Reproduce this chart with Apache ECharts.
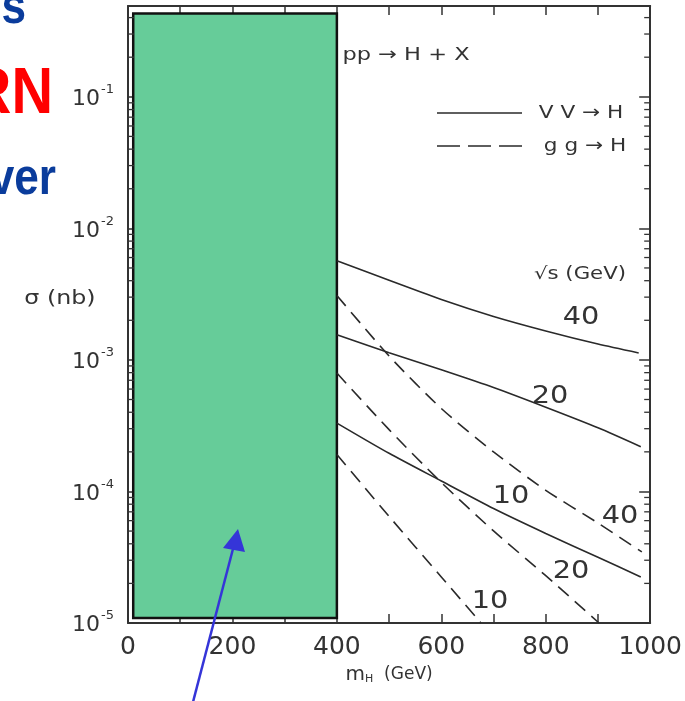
<!DOCTYPE html>
<html><head><meta charset="utf-8">
<script src="https://cdn.jsdelivr.net/npm/echarts@6/dist/echarts.min.js"></script>
<style>html,body{margin:0;padding:0;background:#fff}#c{width:685px;height:701px}</style>
</head><body><div id="c"></div>
<script>
// ---- data ----
const xTickLabels = ['0','200','400','600','800','1000'];
const yDecades = [1e-5, 1e-4, 1e-3, 1e-2, 1e-1];
const minorMultipliers = [2,3,4,5,6,7,8,9];
const greenBox = [10, 400, 1.09e-5, 0.43];          // mH from, mH to, sigma low, sigma high
// VV -> H (solid), sqrt(s) = 40, 20, 10 TeV
const vv40 = [[400,5.66e-3],[500,4.03e-3],[600,2.88e-3],[700,2.14e-3],[800,1.66e-3],[900,1.32e-3],[978,1.13e-3]];
const vv20 = [[400,1.55e-3],[500,1.135e-3],[600,8.41e-4],[700,6.17e-4],[800,4.37e-4],[900,3.05e-4],[982,2.19e-4]];
const vv10 = [[400,3.31e-4],[500,1.95e-4],[600,1.20e-4],[700,7.41e-5],[800,4.79e-5],[900,3.16e-5],[982,2.24e-5]];
// gg -> H (dashed)
const gg40 = [[400,3.09e-3],[500,1.07e-3],[600,4.27e-4],[700,2.00e-4],[800,1.02e-4],[900,5.75e-5],[984,3.47e-5]];
const gg20 = [[400,7.94e-4],[500,2.95e-4],[600,1.17e-4],[700,5.01e-5],[800,2.29e-5],[902,1.0e-5]];
const gg10 = [[400,1.91e-4],[500,6.46e-5],[600,2.24e-5],[676,1.0e-5]];

const minorTicks = [];
yDecades.forEach(d => minorMultipliers.forEach(m => { if (d*m < 0.49) minorTicks.push([0, d*m]); }));

const FONT = '"DejaVu Sans", sans-serif';
const SLIDE = '"Liberation Sans", Arial, sans-serif';
const INK = '#2a2a2a';
const TXT = '#333';
const chart = echarts.init(document.getElementById('c'), null, {renderer:'canvas'});

function curve(name, data, dashed) {
  return {
    name, type:'line', data, smooth:0.25, symbol:'none', clip:true, z:5,
    lineStyle:{color:INK, width:1.6, type: dashed ? [14,8] : 'solid'}
  };
}
function label(text, x, y, size, sx, extra) {
  return Object.assign({type:'text', x, y, scaleX:sx || 1,
    style:{text, fontSize:size, fontFamily:FONT, fill:TXT, align:'center', verticalAlign:'middle'}}, extra || {});
}

const supRich = {
  b:{fontSize:22, fontFamily:FONT, color:TXT, verticalAlign:'bottom'},
  s:{fontSize:13, fontFamily:FONT, color:TXT, verticalAlign:'top', padding:[0,0,14,1]}
};

chart.setOption({
  animation:false,
  backgroundColor:'#fff',
  grid:{left:128, right:32, top:6, bottom:78, containLabel:false},
  xAxis:[{
    type:'value', min:0, max:1000, interval:100, position:'bottom',
    axisLine:{show:true, onZero:false, lineStyle:{color:'#333', width:2}},
    axisTick:{inside:true, length:9, lineStyle:{color:'#333', width:1.5}},
    splitLine:{show:false},
    axisLabel:{margin:12, fontSize:25, fontFamily:FONT, color:TXT,
      formatter:v => xTickLabels.indexOf(String(v)) >= 0 ? String(v) : ''},
    name:'{m|m}{h|H}{g|  (GeV)}', nameLocation:'middle', nameGap:38,
    nameTextStyle:{rich:{
      m:{fontSize:20, fontFamily:FONT, color:TXT},
      h:{fontSize:11, fontFamily:FONT, color:TXT, verticalAlign:'bottom', padding:[8,0,0,0]},
      g:{fontSize:17, fontFamily:FONT, color:TXT}}}
  },{
    type:'value', min:0, max:1000, interval:100, position:'top',
    axisLine:{show:true, onZero:false, lineStyle:{color:'#333', width:2}},
    axisTick:{inside:true, length:9, lineStyle:{color:'#333', width:1.5}},
    axisLabel:{show:false}, splitLine:{show:false}
  }],
  yAxis:[{
    type:'log', logBase:10, min:1e-5, max:0.49, position:'left',
    axisLine:{show:true, onZero:false, lineStyle:{color:'#333', width:2}},
    axisTick:{inside:true, length:11, lineStyle:{color:'#333', width:1.5}},
    splitLine:{show:false},
    axisLabel:{margin:14, rich:supRich, showMaxLabel:false,
      formatter:v => { const e = Math.round(Math.log10(v)); return e >= 0 ? '' : '{b|10}{s|-' + (-e) + '}'; }}
  },{
    type:'log', logBase:10, min:1e-5, max:0.49, position:'right',
    axisLine:{show:true, onZero:false, lineStyle:{color:'#333', width:2}},
    axisTick:{inside:true, length:11, lineStyle:{color:'#333', width:1.5}},
    axisLabel:{show:false}, splitLine:{show:false}
  }],
  series:[
    {
      type:'line', data:[], symbol:'none', z:2,
      markArea:{silent:true, itemStyle:{color:'#66cc99', borderColor:'#111', borderWidth:2.5},
        data:[[{xAxis:greenBox[0], yAxis:greenBox[2]},{xAxis:greenBox[1], yAxis:greenBox[3]}]]}
    },
    {
      type:'custom', data:minorTicks, clip:false, z:6, silent:true,
      renderItem:(params, api) => {
        const v = api.value(1);
        const pL = api.coord([0, v]);
        const pR = api.coord([1000, v]);
        const st = {stroke:'#333', lineWidth:1.3};
        return {type:'group', children:[
          {type:'line', shape:{x1:pL[0], y1:pL[1], x2:pL[0]+6, y2:pL[1]}, style:st},
          {type:'line', shape:{x1:pR[0]-6, y1:pR[1], x2:pR[0], y2:pR[1]}, style:st}
        ]};
      }
    },
    curve('VV40', vv40, false), curve('VV20', vv20, false), curve('VV10', vv10, false),
    curve('gg40', gg40, true), curve('gg20', gg20, true), curve('gg10', gg10, true)
  ],
  graphic:[
    // cropped slide text on the left
    {type:'text', x:26, y:9, scaleX:0.85, style:{text:'s', fontSize:52, fontWeight:'bold', fontFamily:SLIDE, fill:'#0a3c9c', align:'right', verticalAlign:'middle'}},
    {type:'text', x:53, y:95, scaleX:0.9, style:{text:'RN', fontSize:64, fontWeight:'bold', fontFamily:SLIDE, fill:'#ff0000', align:'right', verticalAlign:'middle'}},
    {type:'text', x:56, y:180, scaleX:0.85, style:{text:'ver', fontSize:52, fontWeight:'bold', fontFamily:SLIDE, fill:'#0a3c9c', align:'right', verticalAlign:'middle'}},
    // y axis name
    label('σ (nb)', 60, 299, 19, 1.25),
    // annotations
    label('pp → H + X', 406, 55, 18, 1.25),
    {type:'line', shape:{x1:437, y1:113, x2:522, y2:113}, style:{stroke:INK, lineWidth:1.5}},
    label('V V → H', 581, 113, 18, 1.2),
    {type:'line', shape:{x1:437, y1:146, x2:522, y2:146}, style:{stroke:INK, lineWidth:1.5, lineDash:[23,8]}},
    label('g g → H', 585, 146, 18, 1.2),
    label('√s (GeV)', 580, 275, 17, 1.25),
    label('40', 581, 318, 24, 1.2),
    label('20', 550, 397, 24, 1.2),
    label('10', 511, 497, 24, 1.2),
    label('40', 620, 517, 24, 1.2),
    label('20', 571, 572, 24, 1.2),
    label('10', 490, 602, 24, 1.2),
    // blue arrow
    {type:'line', z:20, shape:{x1:193, y1:702, x2:234, y2:545}, style:{stroke:'#3535d8', lineWidth:2.5}},
    {type:'polygon', z:20, shape:{points:[[238,529],[223,548],[245,552]]}, style:{fill:'#3535d8'}}
  ]
});
</script></body></html>
